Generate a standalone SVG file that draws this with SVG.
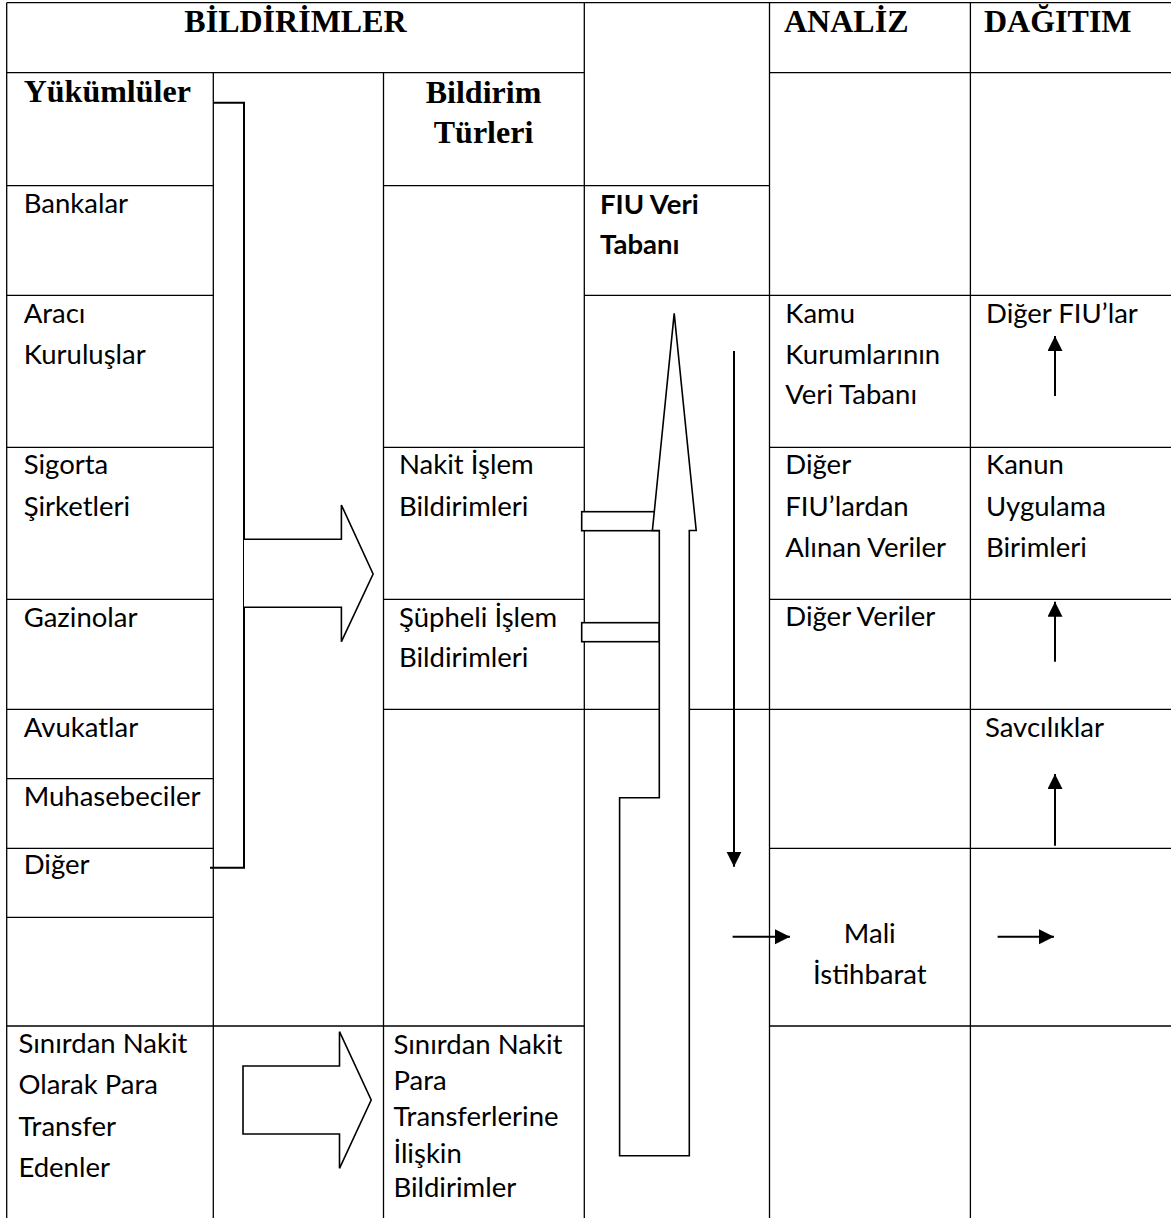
<svg xmlns="http://www.w3.org/2000/svg" width="1171" height="1218" viewBox="0 0 1171 1218">
<defs>
<style>
.grid line{stroke:#000;stroke-width:1.3}
.t{font-family:Lato,"Liberation Sans",sans-serif;font-size:27.5px;fill:#000}
.tb{font-family:Lato,"Liberation Sans",sans-serif;font-size:27.5px;font-weight:bold;fill:#000}
.h{font-family:"Liberation Serif","Times New Roman",serif;font-size:32px;font-weight:bold;fill:#000}
.shape{fill:#fff;stroke:#000;stroke-width:1.6;stroke-linejoin:miter}
.ln{fill:none;stroke:#000;stroke-width:2}
</style>
<marker id="ah" markerUnits="userSpaceOnUse" markerWidth="16" markerHeight="16" refX="15" refY="7.5" orient="auto">
<path d="M0,0 L15,7.5 L0,15 Z" fill="#000"/>
</marker>
</defs>
<rect width="1171" height="1218" fill="#fff"/>

<g id="table" class="grid">
<line x1="6.7" y1="2.7" x2="1171" y2="2.7"/>
<line x1="6.7" y1="2.7" x2="6.7" y2="1218"/>
<line x1="213.3" y1="72.7" x2="213.3" y2="1218"/>
<line x1="383.5" y1="72.7" x2="383.5" y2="1218"/>
<line x1="584.3" y1="2.7" x2="584.3" y2="1218"/>
<line x1="769.5" y1="2.7" x2="769.5" y2="1218"/>
<line x1="970.4" y1="2.7" x2="970.4" y2="1218"/>
<line x1="6.7" y1="72.7" x2="584.3" y2="72.7"/>
<line x1="769.5" y1="72.7" x2="1171" y2="72.7"/>
<line x1="6.7" y1="185.7" x2="213.3" y2="185.7"/>
<line x1="383.5" y1="185.7" x2="769.5" y2="185.7"/>
<line x1="6.7" y1="295.3" x2="213.3" y2="295.3"/>
<line x1="584.3" y1="295.3" x2="1171" y2="295.3"/>
<line x1="6.7" y1="447.3" x2="213.3" y2="447.3"/>
<line x1="383.5" y1="447.3" x2="584.3" y2="447.3"/>
<line x1="769.5" y1="447.3" x2="1171" y2="447.3"/>
<line x1="6.7" y1="599.3" x2="213.3" y2="599.3"/>
<line x1="383.5" y1="599.3" x2="584.3" y2="599.3"/>
<line x1="769.5" y1="599.3" x2="1171" y2="599.3"/>
<line x1="6.7" y1="709.3" x2="213.3" y2="709.3"/>
<line x1="383.5" y1="709.3" x2="1171" y2="709.3"/>
<line x1="6.7" y1="778.7" x2="213.3" y2="778.7"/>
<line x1="6.7" y1="848.3" x2="213.3" y2="848.3"/>
<line x1="769.5" y1="848.3" x2="1171" y2="848.3"/>
<line x1="6.7" y1="917.3" x2="213.3" y2="917.3"/>
<line x1="6.7" y1="1026" x2="584.3" y2="1026"/>
<line x1="769.5" y1="1026" x2="1171" y2="1026"/>
</g>

<g id="headers">
<text class="h" x="295.5" y="31.7" text-anchor="middle">BİLDİRİMLER</text>
<text class="h" x="784" y="31.7">ANALİZ</text>
<text class="h" x="984" y="31.7">DAĞITIM</text>
<text class="h" x="23.7" y="101.7">Yükümlüler</text>
<text class="h" x="483.5" y="103.3" text-anchor="middle">Bildirim</text>
<text class="h" x="483.5" y="143.3" text-anchor="middle">Türleri</text>
</g>

<g id="yukumluler">
<text class="t" x="23.7" y="213.3">Bankalar</text>
<text class="t" x="23.7" y="323.3">Aracı</text>
<text class="t" x="23.7" y="364">Kuruluşlar</text>
<text class="t" x="23.7" y="474.3">Sigorta</text>
<text class="t" x="23.7" y="515.7">Şirketleri</text>
<text class="t" x="23.7" y="626.7">Gazinolar</text>
<text class="t" x="23.7" y="736.7">Avukatlar</text>
<text class="t" x="23.7" y="806">Muhasebeciler</text>
<text class="t" x="23.7" y="874">Diğer</text>
</g>
<g id="sinir-nakit">
<text class="t" x="18.4" y="1053.3">Sınırdan Nakit</text>
<text class="t" x="18.4" y="1094.3">Olarak Para</text>
<text class="t" x="18.4" y="1136">Transfer</text>
<text class="t" x="18.4" y="1176.7">Edenler</text>
</g>

<g id="nakit-islem"><text class="t" x="399" y="474.3">Nakit İşlem</text><text class="t" x="399" y="515.7">Bildirimleri</text></g>
<g id="supheli-islem"><text class="t" x="399" y="626.7">Şüpheli İşlem</text><text class="t" x="399" y="667.3">Bildirimleri</text></g>
<g id="sinir-bildirim">
<text class="t" x="393.4" y="1054">Sınırdan Nakit</text>
<text class="t" x="393.4" y="1090">Para</text>
<text class="t" x="393.4" y="1126">Transferlerine</text>
<text class="t" x="393.4" y="1162.7">İlişkin</text>
<text class="t" x="393.4" y="1197.3">Bildirimler</text>
</g>

<g id="fiu-db"><text class="tb" x="600" y="214">FIU Veri</text><text class="tb" x="600" y="254">Tabanı</text></g>

<g id="kamu-db">
<text class="t" x="785.3" y="322.7">Kamu</text>
<text class="t" x="785.3" y="363.5">Kurumlarının</text>
<text class="t" x="785.3" y="404.3">Veri Tabanı</text>
</g>
<g id="diger-fiu-veri">
<text class="t" x="785.3" y="474.3">Diğer</text>
<text class="t" x="785.3" y="515.7">FIU’lardan</text>
<text class="t" x="785.3" y="556.7">Alınan Veriler</text>
</g>
<g id="diger-veriler"><text class="t" x="785.3" y="625.7">Diğer Veriler</text></g>
<g id="mali-istihbarat">
<text class="t" x="869.8" y="943.3" text-anchor="middle">Mali</text>
<text class="t" x="869.8" y="984" text-anchor="middle">İstihbarat</text>
</g>

<g id="diger-fiular"><text class="t" x="986" y="322.7">Diğer FIU’lar</text></g>
<g id="kanun-uygulama">
<text class="t" x="986" y="474.3">Kanun</text>
<text class="t" x="986" y="515.7">Uygulama</text>
<text class="t" x="986" y="556.7">Birimleri</text>
</g>
<g id="savciliklar"><text class="t" x="985" y="736.7">Savcılıklar</text></g>

<g id="connectors">
<path class="ln" d="M213,102.7 H244 V867.7 H210"/>
<path class="shape" d="M244,539.3 H341.4 V505 L373.1,574 L341.4,641.7 V607.3 H244"/>
<path class="shape" d="M243,1066 H339.5 V1031.7 L371.2,1100 L339.5,1168.3 V1134 H243 Z"/>
<rect class="shape" x="581.7" y="511.7" width="78" height="19"/>
<rect class="shape" x="581.7" y="622.7" width="77.6" height="19"/>
<path class="shape" d="M674.2,313.3 L696.2,530.5 H689.3 V1155.7 H619.6 V797.7 H659.3 V530.5 H652.4 Z"/>
<line x1="734" y1="351" x2="734" y2="866.7" stroke="#000" stroke-width="2" marker-end="url(#ah)"/>
<line x1="732.6" y1="936.7" x2="790" y2="936.7" stroke="#000" stroke-width="2" marker-end="url(#ah)"/>
<line x1="997.6" y1="936.7" x2="1054" y2="936.7" stroke="#000" stroke-width="2" marker-end="url(#ah)"/>
<line x1="1055" y1="396" x2="1055" y2="336" stroke="#000" stroke-width="2" marker-end="url(#ah)"/>
<line x1="1055" y1="661.7" x2="1055" y2="601.7" stroke="#000" stroke-width="2" marker-end="url(#ah)"/>
<line x1="1055" y1="845.7" x2="1055" y2="774" stroke="#000" stroke-width="2" marker-end="url(#ah)"/>
</g>
</svg>
